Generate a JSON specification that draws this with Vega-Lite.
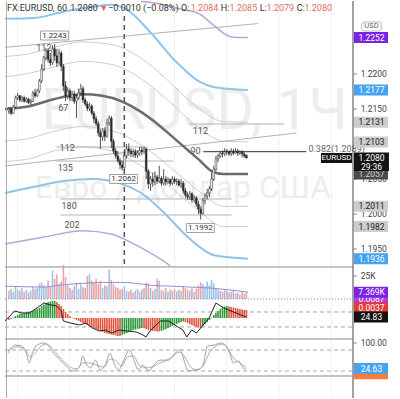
{
"$schema":"https://vega.github.io/schema/vega-lite/v6.json",
"width":400,"height":399,
"autosize":{"type":"fit","contains":"padding"},
"padding":0,
"background":"#ffffff",
"config":{"view":{"stroke":null},"font":"Roboto","axis":{"labelFont":"Roboto"},"text":{"font":"Roboto"}},
"datasets":{
"candles":[
{"t":-0.167,"o":1.2147,"h":1.2153,"l":1.2143,"c":1.2150,"v":9000,"g":-0.00092,"hd":"d"},
{"t":-0.125,"o":1.2150,"h":1.2153,"l":1.2141,"c":1.2144,"v":11000,"g":-0.00046,"hd":"u"},
{"t":-0.083,"o":1.2144,"h":1.2156,"l":1.2143,"c":1.2153,"v":8000,"g":0.00023,"hd":"u"},
{"t":-0.042,"o":1.2153,"h":1.2169,"l":1.2151,"c":1.2166,"v":14000,"g":0.00092,"hd":"u"},
{"t":0,"o":1.2166,"h":1.2173,"l":1.2163,"c":1.2169,"v":10000,"g":0.00138,"hd":"u"},
{"t":0.042,"o":1.2169,"h":1.2170,"l":1.2160,"c":1.2163,"v":9000,"g":0.00184,"hd":"u"},
{"t":0.083,"o":1.2163,"h":1.2169,"l":1.2160,"c":1.2166,"v":12000,"g":0.00207,"hd":"u"},
{"t":0.125,"o":1.2166,"h":1.2169,"l":1.2159,"c":1.2161,"v":8000,"g":0.0023,"hd":"u"},
{"t":0.167,"o":1.2161,"h":1.2167,"l":1.2159,"c":1.2164,"v":10000,"g":0.00253,"hd":"u"},
{"t":0.208,"o":1.2164,"h":1.2166,"l":1.2157,"c":1.2159,"v":7000,"g":0.00276,"hd":"u"},
{"t":0.25,"o":1.2159,"h":1.2164,"l":1.2156,"c":1.2161,"v":9000,"g":0.00299,"hd":"u"},
{"t":0.292,"o":1.2161,"h":1.2176,"l":1.2160,"c":1.2173,"v":13000,"g":0.00322,"hd":"u"},
{"t":0.333,"o":1.2173,"h":1.2179,"l":1.2166,"c":1.2169,"v":11000,"g":0.00368,"hd":"u"},
{"t":0.375,"o":1.2169,"h":1.2179,"l":1.2167,"c":1.2176,"v":12000,"g":0.00414,"hd":"u"},
{"t":0.417,"o":1.2176,"h":1.2193,"l":1.2173,"c":1.2190,"v":17000,"g":0.0046,"hd":"u"},
{"t":0.458,"o":1.2190,"h":1.2214,"l":1.2187,"c":1.2207,"v":18000,"g":0.00552,"hd":"u"},
{"t":0.5,"o":1.2207,"h":1.2226,"l":1.2204,"c":1.2223,"v":15000,"g":0.00621,"hd":"u"},
{"t":0.542,"o":1.2223,"h":1.2237,"l":1.2219,"c":1.2233,"v":13000,"g":0.0069,"hd":"u"},
{"t":0.583,"o":1.2233,"h":1.2236,"l":1.2216,"c":1.2221,"v":20000,"g":0.00736,"hd":"u"},
{"t":0.625,"o":1.2221,"h":1.2230,"l":1.2211,"c":1.2216,"v":14000,"g":0.00759,"hd":"u"},
{"t":0.667,"o":1.2216,"h":1.2241,"l":1.2213,"c":1.2236,"v":31000,"g":0.00782,"hd":"u"},
{"t":0.708,"o":1.2236,"h":1.2243,"l":1.2219,"c":1.2226,"v":22000,"g":0.00782,"hd":"u"},
{"t":0.75,"o":1.2226,"h":1.2236,"l":1.2210,"c":1.2216,"v":27000,"g":0.00736,"hd":"d"},
{"t":0.792,"o":1.2216,"h":1.2236,"l":1.2213,"c":1.2230,"v":16000,"g":0.00644,"hd":"d"},
{"t":0.833,"o":1.2230,"h":1.2233,"l":1.2204,"c":1.2211,"v":19000,"g":0.00552,"hd":"d"},
{"t":0.875,"o":1.2211,"h":1.2214,"l":1.2176,"c":1.2183,"v":37000,"g":0.00414,"hd":"d"},
{"t":0.917,"o":1.2183,"h":1.2190,"l":1.2161,"c":1.2169,"v":24000,"g":0.00276,"hd":"d"},
{"t":0.958,"o":1.2169,"h":1.2181,"l":1.2164,"c":1.2176,"v":15000,"g":0.00184,"hd":"d"},
{"t":1.0,"o":1.2176,"h":1.2179,"l":1.2161,"c":1.2166,"v":12000,"g":0.00092,"hd":"d"},
{"t":1.042,"o":1.2166,"h":1.2176,"l":1.2161,"c":1.2171,"v":10000,"g":0.00023,"hd":"d"},
{"t":1.083,"o":1.2171,"h":1.2176,"l":1.2157,"c":1.2161,"v":14000,"g":-0.00046,"hd":"d"},
{"t":1.125,"o":1.2161,"h":1.2171,"l":1.2137,"c":1.2166,"v":18000,"g":-0.00092,"hd":"d"},
{"t":1.167,"o":1.2166,"h":1.2179,"l":1.2163,"c":1.2173,"v":11000,"g":-0.00138,"hd":"d"},
{"t":1.208,"o":1.2173,"h":1.2186,"l":1.2169,"c":1.2179,"v":16000,"g":-0.00184,"hd":"d"},
{"t":1.25,"o":1.2179,"h":1.2183,"l":1.2159,"c":1.2163,"v":13000,"g":-0.0023,"hd":"d"},
{"t":1.292,"o":1.2163,"h":1.2166,"l":1.2154,"c":1.2157,"v":12000,"g":-0.00276,"hd":"d"},
{"t":1.333,"o":1.2157,"h":1.2161,"l":1.2147,"c":1.2151,"v":25000,"g":-0.00322,"hd":"d"},
{"t":1.375,"o":1.2151,"h":1.2159,"l":1.2147,"c":1.2154,"v":27000,"g":-0.00368,"hd":"d"},
{"t":1.417,"o":1.2154,"h":1.2157,"l":1.2141,"c":1.2144,"v":20000,"g":-0.00414,"hd":"d"},
{"t":1.458,"o":1.2144,"h":1.2147,"l":1.2130,"c":1.2136,"v":18000,"g":-0.0046,"hd":"d"},
{"t":1.5,"o":1.2136,"h":1.2140,"l":1.2126,"c":1.2129,"v":22000,"g":-0.00506,"hd":"d"},
{"t":1.542,"o":1.2129,"h":1.2133,"l":1.2111,"c":1.2116,"v":16000,"g":-0.00552,"hd":"d"},
{"t":1.583,"o":1.2116,"h":1.2121,"l":1.2093,"c":1.2110,"v":20000,"g":-0.00598,"hd":"d"},
{"t":1.625,"o":1.2110,"h":1.2123,"l":1.2104,"c":1.2119,"v":12000,"g":-0.00644,"hd":"d"},
{"t":1.667,"o":1.2119,"h":1.2124,"l":1.2104,"c":1.2111,"v":15000,"g":-0.0069,"hd":"d"},
{"t":1.708,"o":1.2111,"h":1.2136,"l":1.2109,"c":1.2130,"v":14000,"g":-0.00713,"hd":"d"},
{"t":1.75,"o":1.2130,"h":1.2141,"l":1.2126,"c":1.2137,"v":32000,"g":-0.00736,"hd":"d"},
{"t":1.792,"o":1.2137,"h":1.2140,"l":1.2094,"c":1.2104,"v":21000,"g":-0.00759,"hd":"d"},
{"t":1.833,"o":1.2104,"h":1.2107,"l":1.2086,"c":1.2090,"v":16000,"g":-0.00782,"hd":"d"},
{"t":1.875,"o":1.2090,"h":1.2094,"l":1.2079,"c":1.2083,"v":13000,"g":-0.00805,"hd":"d"},
{"t":1.917,"o":1.2083,"h":1.2090,"l":1.2073,"c":1.2076,"v":12000,"g":-0.00828,"hd":"d"},
{"t":1.958,"o":1.2076,"h":1.2080,"l":1.2064,"c":1.2070,"v":10000,"g":-0.00828,"hd":"d"},
{"t":2.0,"o":1.2070,"h":1.2076,"l":1.2062,"c":1.2066,"v":11000,"g":-0.00782,"hd":"u"},
{"t":2.042,"o":1.2066,"h":1.2093,"l":1.2064,"c":1.2083,"v":14000,"g":-0.00736,"hd":"u"},
{"t":2.083,"o":1.2083,"h":1.2100,"l":1.2079,"c":1.2093,"v":9000,"g":-0.0069,"hd":"u"},
{"t":2.125,"o":1.2093,"h":1.2101,"l":1.2083,"c":1.2090,"v":8000,"g":-0.00644,"hd":"u"},
{"t":2.167,"o":1.2090,"h":1.2094,"l":1.2081,"c":1.2086,"v":10000,"g":-0.00598,"hd":"u"},
{"t":2.208,"o":1.2086,"h":1.2093,"l":1.2081,"c":1.2089,"v":7000,"g":-0.00552,"hd":"u"},
{"t":2.25,"o":1.2089,"h":1.2093,"l":1.2080,"c":1.2084,"v":9000,"g":-0.00529,"hd":"u"},
{"t":2.292,"o":1.2084,"h":1.2091,"l":1.2080,"c":1.2087,"v":11000,"g":-0.00506,"hd":"u"},
{"t":2.333,"o":1.2087,"h":1.2096,"l":1.2083,"c":1.2091,"v":8000,"g":-0.00483,"hd":"u"},
{"t":2.375,"o":1.2091,"h":1.2096,"l":1.2084,"c":1.2089,"v":10000,"g":-0.0046,"hd":"u"},
{"t":2.417,"o":1.2089,"h":1.2096,"l":1.2086,"c":1.2093,"v":12000,"g":-0.0046,"hd":"d"},
{"t":2.458,"o":1.2093,"h":1.2094,"l":1.2050,"c":1.2061,"v":18000,"g":-0.00506,"hd":"d"},
{"t":2.5,"o":1.2061,"h":1.2064,"l":1.2036,"c":1.2043,"v":17000,"g":-0.00552,"hd":"d"},
{"t":2.542,"o":1.2043,"h":1.2054,"l":1.2033,"c":1.2050,"v":12000,"g":-0.00575,"hd":"d"},
{"t":2.583,"o":1.2050,"h":1.2059,"l":1.2039,"c":1.2046,"v":9000,"g":-0.00598,"hd":"d"},
{"t":2.625,"o":1.2046,"h":1.2061,"l":1.2041,"c":1.2053,"v":11000,"g":-0.00598,"hd":"d"},
{"t":2.667,"o":1.2053,"h":1.2056,"l":1.2043,"c":1.2047,"v":22000,"g":-0.00621,"hd":"d"},
{"t":2.708,"o":1.2047,"h":1.2069,"l":1.2044,"c":1.2051,"v":20000,"g":-0.00621,"hd":"d"},
{"t":2.75,"o":1.2051,"h":1.2054,"l":1.2040,"c":1.2044,"v":10000,"g":-0.00598,"hd":"u"},
{"t":2.792,"o":1.2044,"h":1.2064,"l":1.2041,"c":1.2050,"v":9000,"g":-0.00552,"hd":"u"},
{"t":2.833,"o":1.2050,"h":1.2054,"l":1.2041,"c":1.2046,"v":12000,"g":-0.00506,"hd":"u"},
{"t":2.875,"o":1.2046,"h":1.2053,"l":1.2043,"c":1.2049,"v":8000,"g":-0.0046,"hd":"u"},
{"t":2.917,"o":1.2049,"h":1.2051,"l":1.2040,"c":1.2044,"v":10000,"g":-0.00414,"hd":"u"},
{"t":2.958,"o":1.2044,"h":1.2054,"l":1.2041,"c":1.2050,"v":9000,"g":-0.00368,"hd":"u"},
{"t":3.0,"o":1.2050,"h":1.2053,"l":1.2043,"c":1.2046,"v":11000,"g":-0.00322,"hd":"u"},
{"t":3.042,"o":1.2046,"h":1.2051,"l":1.2041,"c":1.2047,"v":8000,"g":-0.00276,"hd":"u"},
{"t":3.083,"o":1.2047,"h":1.2050,"l":1.2039,"c":1.2041,"v":10000,"g":-0.0023,"hd":"u"},
{"t":3.125,"o":1.2041,"h":1.2050,"l":1.2037,"c":1.2044,"v":9000,"g":-0.00184,"hd":"u"},
{"t":3.167,"o":1.2044,"h":1.2047,"l":1.2029,"c":1.2033,"v":14000,"g":-0.00161,"hd":"u"},
{"t":3.208,"o":1.2033,"h":1.2037,"l":1.2023,"c":1.2027,"v":12000,"g":-0.00184,"hd":"d"},
{"t":3.25,"o":1.2027,"h":1.2031,"l":1.2020,"c":1.2024,"v":10000,"g":-0.0023,"hd":"d"},
{"t":3.292,"o":1.2024,"h":1.2033,"l":1.2020,"c":1.2029,"v":9000,"g":-0.00276,"hd":"d"},
{"t":3.333,"o":1.2029,"h":1.2031,"l":1.2016,"c":1.2020,"v":12000,"g":-0.00322,"hd":"d"},
{"t":3.375,"o":1.2020,"h":1.2027,"l":1.2016,"c":1.2023,"v":8000,"g":-0.00368,"hd":"d"},
{"t":3.417,"o":1.2023,"h":1.2026,"l":1.2010,"c":1.2014,"v":11000,"g":-0.00414,"hd":"d"},
{"t":3.458,"o":1.2014,"h":1.2019,"l":1.2000,"c":1.2007,"v":15000,"g":-0.00437,"hd":"d"},
{"t":3.5,"o":1.2007,"h":1.2011,"l":1.1992,"c":1.2001,"v":18000,"g":-0.0046,"hd":"d"},
{"t":3.542,"o":1.2001,"h":1.2023,"l":1.1999,"c":1.2019,"v":16000,"g":-0.00368,"hd":"u"},
{"t":3.583,"o":1.2019,"h":1.2030,"l":1.2014,"c":1.2026,"v":14000,"g":-0.00276,"hd":"u"},
{"t":3.625,"o":1.2026,"h":1.2036,"l":1.2021,"c":1.2030,"v":19000,"g":-0.00184,"hd":"u"},
{"t":3.667,"o":1.2030,"h":1.2040,"l":1.2024,"c":1.2036,"v":15000,"g":-0.00092,"hd":"u"},
{"t":3.708,"o":1.2036,"h":1.2059,"l":1.2033,"c":1.2050,"v":21000,"g":0.00023,"hd":"u"},
{"t":3.75,"o":1.2050,"h":1.2069,"l":1.2047,"c":1.2064,"v":17000,"g":0.00138,"hd":"u"},
{"t":3.792,"o":1.2064,"h":1.2083,"l":1.2061,"c":1.2079,"v":12000,"g":0.0023,"hd":"u"},
{"t":3.833,"o":1.2079,"h":1.2086,"l":1.2074,"c":1.2083,"v":10000,"g":0.00322,"hd":"u"},
{"t":3.875,"o":1.2083,"h":1.2090,"l":1.2080,"c":1.2087,"v":9000,"g":0.00414,"hd":"u"},
{"t":3.917,"o":1.2087,"h":1.2091,"l":1.2081,"c":1.2086,"v":8000,"g":0.00483,"hd":"u"},
{"t":3.958,"o":1.2086,"h":1.2094,"l":1.2083,"c":1.2090,"v":11000,"g":0.00529,"hd":"u"},
{"t":4.0,"o":1.2090,"h":1.2093,"l":1.2084,"c":1.2089,"v":9000,"g":0.00552,"hd":"u"},
{"t":4.042,"o":1.2089,"h":1.2091,"l":1.2083,"c":1.2086,"v":7000,"g":0.00529,"hd":"d"},
{"t":4.083,"o":1.2086,"h":1.2094,"l":1.2083,"c":1.2090,"v":8000,"g":0.00506,"hd":"d"},
{"t":4.125,"o":1.2090,"h":1.2093,"l":1.2084,"c":1.2087,"v":10000,"g":0.00483,"hd":"d"},
{"t":4.167,"o":1.2087,"h":1.2094,"l":1.2086,"c":1.2090,"v":6000,"g":0.0046,"hd":"d"},
{"t":4.208,"o":1.2090,"h":1.2093,"l":1.2083,"c":1.2087,"v":7000,"g":0.00437,"hd":"d"},
{"t":4.25,"o":1.2087,"h":1.2091,"l":1.2084,"c":1.2089,"v":5000,"g":0.00414,"hd":"d"},
{"t":4.292,"o":1.2089,"h":1.2091,"l":1.2081,"c":1.2086,"v":8000,"g":0.00391,"hd":"d"},
{"t":4.333,"o":1.2086,"h":1.2089,"l":1.2080,"c":1.2083,"v":6000,"g":0.00368,"hd":"d"},
{"t":4.375,"o":1.2084,"h":1.2085,"l":1.2079,"c":1.2080,"v":7369,"g":0.0037,"hd":"d"}
],
"gcurve":[
{"s":"a","t":-0.242,"p":1.2225},{"s":"a","t":0.223,"p":1.2229},{"s":"a","t":0.688,"p":1.2238},{"s":"a","t":1.245,"p":1.2246},{"s":"a","t":1.617,"p":1.2244},{"s":"a","t":1.989,"p":1.2238},{"s":"a","t":2.175,"p":1.2231},{"s":"a","t":2.602,"p":1.2209},{"s":"a","t":3.011,"p":1.2181},{"s":"a","t":3.476,"p":1.2150},{"s":"a","t":3.941,"p":1.2132},{"s":"a","t":4.405,"p":1.2131},
{"s":"c","t":-0.242,"p":1.2196},{"s":"c","t":0.223,"p":1.2201},{"s":"c","t":0.688,"p":1.2210},{"s":"c","t":1.245,"p":1.2218},{"s":"c","t":1.617,"p":1.2216},{"s":"c","t":1.989,"p":1.2209},{"s":"c","t":2.175,"p":1.2202},{"s":"c","t":2.602,"p":1.2180},{"s":"c","t":3.011,"p":1.2153},{"s":"c","t":3.476,"p":1.2122},{"s":"c","t":3.941,"p":1.2104},{"s":"c","t":4.405,"p":1.2103},
{"s":"b","t":-0.242,"p":1.2104},{"s":"b","t":0.223,"p":1.2108},{"s":"b","t":0.688,"p":1.2118},{"s":"b","t":1.245,"p":1.2125},{"s":"b","t":1.617,"p":1.2122},{"s":"b","t":1.989,"p":1.2114},{"s":"b","t":2.175,"p":1.2107},{"s":"b","t":2.602,"p":1.2086},{"s":"b","t":3.011,"p":1.2061},{"s":"b","t":3.476,"p":1.2032},{"s":"b","t":3.941,"p":1.2011},{"s":"b","t":4.405,"p":1.2011},
{"s":"d","t":-0.242,"p":1.2075},{"s":"d","t":0.223,"p":1.2079},{"s":"d","t":0.688,"p":1.2090},{"s":"d","t":1.245,"p":1.2096},{"s":"d","t":1.617,"p":1.2093},{"s":"d","t":1.989,"p":1.2085},{"s":"d","t":2.175,"p":1.2077},{"s":"d","t":2.602,"p":1.2057},{"s":"d","t":3.011,"p":1.2033},{"s":"d","t":3.476,"p":1.2004},{"s":"d","t":3.941,"p":1.1982},{"s":"d","t":4.405,"p":1.1982}
],
"ma":[
{"t":-0.242,"p":1.2150},{"t":0.223,"p":1.2154},{"t":0.688,"p":1.2164},{"t":1.245,"p":1.2171},{"t":1.617,"p":1.2169},{"t":1.989,"p":1.2161},{"t":2.175,"p":1.2154},{"t":2.602,"p":1.2133},{"t":3.011,"p":1.2107},{"t":3.290,"p":1.2089},{"t":3.476,"p":1.2077},{"t":3.717,"p":1.2061},{"t":3.941,"p":1.2057},{"t":4.405,"p":1.2057}
],
"blue":[
{"s":"u","t":-0.242,"p":1.2279},{"s":"u","t":0.316,"p":1.2280},{"s":"u","t":0.874,"p":1.2289},{"s":"u","t":1.431,"p":1.2296},{"s":"u","t":1.803,"p":1.2299},{"s":"u","t":2.045,"p":1.2294},{"s":"u","t":2.546,"p":1.2259},{"s":"u","t":3.011,"p":1.2219},{"s":"u","t":3.476,"p":1.2189},{"s":"u","t":3.755,"p":1.2181},{"s":"u","t":4.033,"p":1.2179},{"s":"u","t":4.405,"p":1.2177},
{"s":"l","t":-0.242,"p":1.2030},{"s":"l","t":0.316,"p":1.2039},{"s":"l","t":0.874,"p":1.2047},{"s":"l","t":1.431,"p":1.2050},{"s":"l","t":1.989,"p":1.2043},{"s":"l","t":2.361,"p":1.2030},{"s":"l","t":2.825,"p":1.2000},{"s":"l","t":3.197,"p":1.1971},{"s":"l","t":3.476,"p":1.1953},{"s":"l","t":3.755,"p":1.1941},{"s":"l","t":4.405,"p":1.1936}
],
"purple":[
{"s":"u","t":2.361,"p":1.2304},{"s":"u","t":2.732,"p":1.2300},{"s":"u","t":3.104,"p":1.2293},{"s":"u","t":3.476,"p":1.2286},{"s":"u","t":3.755,"p":1.2269},{"s":"u","t":4.089,"p":1.2253},{"s":"u","t":4.405,"p":1.2252},
{"s":"l","t":-0.242,"p":1.1957},{"s":"l","t":0.502,"p":1.1967},{"s":"l","t":1.245,"p":1.1976},{"s":"l","t":1.803,"p":1.1971},{"s":"l","t":2.230,"p":1.1957},{"s":"l","t":2.546,"p":1.1944},{"s":"l","t":2.862,"p":1.1929},{"s":"l","t":2.918,"p":1.19257}
],
"levels":[
{"t1":-0.242,"p1":1.2238,"t2":4.591,"p2":1.2272},
{"t1":0.743,"p1":1.20957,"t2":2.491,"p2":1.20957},
{"t1":-0.242,"p1":1.20686,"t2":5.335,"p2":1.21157},
{"t1":0.743,"p1":1.20757,"t2":2.974,"p2":1.20757},
{"t1":0.818,"p1":1.20214,"t2":4.089,"p2":1.20214},
{"t1":0.818,"p1":1.19986,"t2":4.089,"p2":1.19986},
{"t1":3.29,"p1":1.21286,"t2":5.093,"p2":1.21286}
],
"lvlabels":[
{"t":0.502,"p":1.22371,"s":"112"},{"t":0.874,"p":1.2151,"s":"67"},{"t":0.948,"p":1.20943,"s":"112"},{"t":0.911,"p":1.20657,"s":"135"},{"t":0.985,"p":1.20114,"s":"180"},{"t":1.041,"p":1.19843,"s":"202"},{"t":3.494,"p":1.21186,"s":"112"},{"t":3.401,"p":1.209,"s":"90"}
],
"boxes":[
{"t":0.706,"p":1.2255,"s":"1.2243"},{"t":2.026,"p":1.2050,"s":"1.2062"},{"t":3.494,"p":1.1980,"s":"1.1992"}
],
"hdr":[
{"t":-0.2045,"s":"FX:EURUSD, 60","k":"n"},{"t":1.004,"s":"1.2080","k":"n"},{"t":1.561,"s":"▼","k":"r"},{"t":1.729,"s":"−0.0010 (−0.08%)","k":"n"},{"t":3.123,"s":"O:","k":"n"},{"t":3.309,"s":"1.2084","k":"r"},{"t":3.885,"s":"H:","k":"n"},{"t":4.052,"s":"1.2085","k":"r"},{"t":4.628,"s":"L:","k":"n"},{"t":4.758,"s":"1.2079","k":"r"},{"t":5.335,"s":"C:","k":"n"},{"t":5.483,"s":"1.2080","k":"r"}
],
"pticks":[
{"p":1.225,"s":"1.2250"},{"p":1.22,"s":"1.2200"},{"p":1.215,"s":"1.2150"},{"p":1.21,"s":"1.2100"},{"p":1.205,"s":"1.2050"},{"p":1.2,"s":"1.2000"},{"p":1.195,"s":"1.1950"}
],
"mtags":[
{"p":1.2252,"s":"1.2252","k":"violet"},{"p":1.2177,"s":"1.2177","k":"blue"},{"p":1.2131,"s":"1.2131","k":"grey"},{"p":1.2103,"s":"1.2103","k":"grey"},{"p":1.2057,"s":"1.2057","k":"dark"},{"p":1.2011,"s":"1.2011","k":"grey"},{"p":1.1982,"s":"1.1982","k":"grey"},{"p":1.1936,"s":"1.1936","k":"blue"}
],
"macdline":[
{"t":-0.242,"m":-0.00138},{"t":-0.056,"m":0.00322},{"t":0.074,"m":0.0023},{"t":0.223,"m":0.0023},{"t":0.372,"m":0.0046},{"t":0.502,"m":0.0069},{"t":0.632,"m":0.00598},{"t":0.743,"m":0.00552},{"t":0.836,"m":0.00322},{"t":0.874,"m":-0.00138},{"t":1.004,"m":-0.0023},{"t":1.19,"m":-0.00322},{"t":1.301,"m":-0.0023},{"t":1.431,"m":-0.0046},{"t":1.561,"m":-0.00598},{"t":1.673,"m":-0.00552},{"t":1.803,"m":-0.0069},{"t":1.933,"m":-0.00552},{"t":2.082,"m":-0.00598},{"t":2.268,"m":-0.00644},{"t":2.398,"m":-0.00782},{"t":2.454,"m":-0.00874},{"t":2.546,"m":-0.00552},{"t":2.732,"m":-0.00138},{"t":2.881,"m":-0.00138},{"t":3.16,"m":-0.00552},{"t":3.234,"m":-0.00874},{"t":3.327,"m":-0.00552},{"t":3.42,"m":-0.0069},{"t":3.532,"m":-0.00368},{"t":3.662,"m":0},{"t":3.792,"m":0.0069},{"t":3.848,"m":0.00598},{"t":3.941,"m":0.0046},{"t":4.126,"m":0.00276},{"t":4.368,"m":0.00046}
],
"vma":[
{"t":-0.242,"m":14000},{"t":0.502,"m":13000},{"t":0.781,"m":15000},{"t":1.245,"m":17000},{"t":1.617,"m":18000},{"t":1.989,"m":18000},{"t":2.268,"m":17000},{"t":2.546,"m":15000},{"t":2.918,"m":14000},{"t":3.29,"m":13000},{"t":3.662,"m":12000},{"t":4.033,"m":10000},{"t":4.405,"m":7500}
],
"stk":[
{"t":-0.186,"v":71},{"t":-0.056,"v":94},{"t":0.074,"v":91},{"t":0.167,"v":71},{"t":0.223,"v":43},{"t":0.279,"v":71},{"t":0.372,"v":94},{"t":0.502,"v":100},{"t":0.595,"v":91},{"t":0.688,"v":71},{"t":0.818,"v":51},{"t":0.929,"v":34},{"t":1.059,"v":20},{"t":1.19,"v":34},{"t":1.245,"v":63},{"t":1.301,"v":43},{"t":1.394,"v":29},{"t":1.487,"v":51},{"t":1.58,"v":23},{"t":1.673,"v":37},{"t":1.766,"v":71},{"t":1.84,"v":43},{"t":1.933,"v":23},{"t":2.007,"v":43},{"t":2.138,"v":80},{"t":2.23,"v":49},{"t":2.305,"v":23},{"t":2.398,"v":37},{"t":2.509,"v":20},{"t":2.602,"v":37},{"t":2.732,"v":51},{"t":2.881,"v":51},{"t":3.011,"v":71},{"t":3.104,"v":80},{"t":3.197,"v":43},{"t":3.253,"v":20},{"t":3.383,"v":23},{"t":3.513,"v":29},{"t":3.569,"v":51},{"t":3.625,"v":91},{"t":3.755,"v":94},{"t":3.885,"v":100},{"t":3.996,"v":91},{"t":4.071,"v":63},{"t":4.126,"v":43},{"t":4.219,"v":49},{"t":4.312,"v":29},{"t":4.368,"v":24.6}
],
"std":[
{"t":-0.186,"v":77},{"t":-0.019,"v":89},{"t":0.13,"v":83},{"t":0.242,"v":60},{"t":0.335,"v":71},{"t":0.446,"v":91},{"t":0.558,"v":97},{"t":0.67,"v":83},{"t":0.781,"v":63},{"t":0.892,"v":46},{"t":1.004,"v":31},{"t":1.134,"v":26},{"t":1.245,"v":43},{"t":1.357,"v":43},{"t":1.45,"v":40},{"t":1.561,"v":34},{"t":1.654,"v":31},{"t":1.766,"v":54},{"t":1.877,"v":49},{"t":1.989,"v":34},{"t":2.1,"v":60},{"t":2.212,"v":63},{"t":2.323,"v":37},{"t":2.435,"v":29},{"t":2.565,"v":31},{"t":2.677,"v":40},{"t":2.825,"v":49},{"t":2.955,"v":60},{"t":3.085,"v":74},{"t":3.197,"v":60},{"t":3.309,"v":31},{"t":3.439,"v":23},{"t":3.569,"v":40},{"t":3.662,"v":71},{"t":3.792,"v":91},{"t":3.922,"v":97},{"t":4.033,"v":80},{"t":4.126,"v":57},{"t":4.238,"v":43},{"t":4.368,"v":31}
],
"days":[{"t":0},{"t":1},{"t":2},{"t":3},{"t":4},{"t":5},{"t":6}]
},
"layer":[
{"layer":[
{"data":{"name":"days"},"mark":{"type":"rule","color":"#f0f0f0","strokeWidth":1},"encoding":{"x":{"field":"t","type":"quantitative","axis":null}}},
{"data":{"values":[{"s":"EURUSD, 1Ч"}]},"mark":{"type":"text","fontSize":57,"color":"#ededed","align":"center","baseline":"alphabetic"},"encoding":{"x":{"datum":3.38,"axis":null},"y":{"datum":1.21214,"axis":null},"text":{"field":"s"}}},
{"data":{"values":[{"s":"Евро / Доллар США"}]},"mark":{"type":"text","fontSize":32,"color":"#ededed","align":"center","baseline":"alphabetic"},"encoding":{"x":{"datum":3.16,"axis":null},"y":{"datum":1.20229,"axis":null},"text":{"field":"s"}}},
{"data":{"name":"gcurve"},"mark":{"type":"line","color":"#cdcdcd","strokeWidth":1,"interpolate":"monotone","clip":true},"encoding":{"x":{"field":"t","type":"quantitative","axis":null},"y":{"field":"p","type":"quantitative","axis":null},"detail":{"field":"s"}}},
{"data":{"name":"levels"},"mark":{"type":"rule","color":"#b3b3b3","strokeWidth":1,"clip":true},"encoding":{"x":{"field":"t1","type":"quantitative","axis":null},"x2":{"field":"t2"},"y":{"field":"p1","type":"quantitative","axis":null},"y2":{"field":"p2"}}},
{"data":{"name":"purple"},"mark":{"type":"line","color":"#bfa2d6","strokeWidth":1.5,"interpolate":"monotone","clip":true},"encoding":{"x":{"field":"t","type":"quantitative","axis":null},"y":{"field":"p","type":"quantitative","axis":null},"detail":{"field":"s"}}},
{"data":{"name":"blue"},"mark":{"type":"line","color":"#8fc3ea","strokeWidth":2,"interpolate":"monotone","clip":true},"encoding":{"x":{"field":"t","type":"quantitative","axis":null},"y":{"field":"p","type":"quantitative","axis":null},"detail":{"field":"s"}}},
{"data":{"name":"ma"},"mark":{"type":"line","color":"#6b6b6b","strokeWidth":2.5,"interpolate":"monotone","clip":true},"encoding":{"x":{"field":"t","type":"quantitative","axis":null},"y":{"field":"p","type":"quantitative","axis":null}}},
{"data":{"values":[{}]},"mark":{"type":"rule","color":"#555555","strokeWidth":1.5,"strokeDash":[5,4]},"encoding":{"x":{"datum":2.04,"axis":null},"y":{"datum":1.22828,"axis":null},"y2":{"datum":1.19257}}},
{"data":{"name":"candles"},"mark":{"type":"rule","color":"#2a2a2a","strokeWidth":0.8},"encoding":{"x":{"field":"t","type":"quantitative","scale":{"domain":[-0.2416,6.4126],"range":[0,358],"nice":false,"zero":false},"axis":{"values":[0,1,2,4,5,6],"labelExpr":"datum.value == 0 ? '25' : datum.value == 1 ? '26' : datum.value == 2 ? 'Мар' : datum.value == 4 ? '3' : datum.value == 5 ? '4' : '5'","title":null,"grid":false,"domain":false,"offset":-24,"tickColor":"#999999","tickSize":3,"labelColor":"#444444","labelFontSize":8,"labelPadding":3}},"y":{"field":"l","type":"quantitative","scale":{"domain":[1.19257,1.23043],"range":[265,0],"nice":false,"zero":false},"axis":null},"y2":{"field":"h"}}},
{"data":{"name":"candles"},"mark":{"type":"bar","size":1.7,"stroke":"#2a2a2a","strokeWidth":0.5},"encoding":{"x":{"field":"t","type":"quantitative","axis":null},"y":{"field":"o","type":"quantitative","axis":null},"y2":{"field":"c"},"color":{"condition":{"test":"datum.c > datum.o","value":"#ffffff"},"value":"#2a2a2a"}}},
{"data":{"values":[{"t1":3.55,"t2":5.52,"p":1.2089}]},"mark":{"type":"rule","color":"#333333","strokeWidth":1},"encoding":{"x":{"field":"t1","type":"quantitative","axis":null},"x2":{"field":"t2"},"y":{"field":"p","type":"quantitative","axis":null}}},
{"data":{"name":"lvlabels"},"mark":{"type":"text","fontSize":9,"color":"#555555","align":"center","baseline":"middle"},"encoding":{"x":{"field":"t","type":"quantitative","axis":null},"y":{"field":"p","type":"quantitative","axis":null},"text":{"field":"s"}}},
{"data":{"values":[{"t":5.56,"p":1.2093,"s":"0.382(1.2089)"}]},"mark":{"type":"text","fontSize":9,"color":"#666666","align":"left","baseline":"middle"},"encoding":{"x":{"field":"t","type":"quantitative","axis":null},"y":{"field":"p","type":"quantitative","axis":null},"text":{"field":"s"}}},
{"data":{"name":"boxes"},"mark":{"type":"rect","fill":"#ffffff","stroke":"#8a8a8a","strokeWidth":0.8,"xOffset":-14,"x2Offset":14,"yOffset":-4.5,"y2Offset":4.5},"encoding":{"x":{"field":"t","type":"quantitative","axis":null},"x2":{"field":"t"},"y":{"field":"p","type":"quantitative","axis":null},"y2":{"field":"p"}}},
{"data":{"name":"boxes"},"mark":{"type":"text","fontSize":8,"color":"#333333","align":"center","baseline":"middle"},"encoding":{"x":{"field":"t","type":"quantitative","axis":null},"y":{"field":"p","type":"quantitative","axis":null},"text":{"field":"s"}}},
{"data":{"name":"hdr"},"mark":{"type":"text","fontSize":9,"align":"left","baseline":"middle"},"encoding":{"x":{"field":"t","type":"quantitative","axis":null},"y":{"datum":1.22943,"axis":null},"text":{"field":"s"},"color":{"condition":{"test":"datum.k == 'r'","value":"#e06c6c"},"value":"#333333"}}},
{"data":{"values":[{}]},"mark":{"type":"rule","color":"#8a8a8a","strokeWidth":1},"encoding":{"x":{"datum":-0.2416,"axis":null},"x2":{"datum":6.4126},"y":{"datum":1.19243,"axis":null}}},
{"data":{"values":[{}]},"mark":{"type":"rule","color":"#444444","strokeWidth":1},"encoding":{"x":{"datum":6.4126,"axis":null}}},
{"data":{"values":[{}]},"mark":{"type":"rule","color":"#aaaaaa","strokeWidth":1},"encoding":{"x":{"datum":-0.214,"axis":null}}},
{"data":{"name":"pticks"},"mark":{"type":"rule","color":"#888888","strokeWidth":1},"encoding":{"x":{"datum":6.4126,"axis":null},"x2":{"datum":6.487},"y":{"field":"p","type":"quantitative","axis":null}}},
{"data":{"name":"pticks"},"mark":{"type":"text","fontSize":8.5,"color":"#444444","align":"left","baseline":"middle"},"encoding":{"x":{"datum":6.561,"axis":null},"y":{"field":"p","type":"quantitative","axis":null},"text":{"field":"s"}}},
{"data":{"name":"mtags"},"mark":{"type":"rect","yOffset":-5.5,"y2Offset":5.5},"encoding":{"x":{"datum":6.431,"axis":null},"x2":{"datum":7.082},"y":{"field":"p","type":"quantitative","axis":null},"y2":{"field":"p"},"fill":{"field":"k","type":"nominal","legend":null,"scale":{"domain":["violet","blue","grey","black","dark","red","pink","orange"],"range":["#7b22e6","#45a3f0","#cdcdcd","#131313","#4a4a4a","#e53935","#b23bd3","#ff7a3d"]}}}},
{"data":{"name":"mtags"},"mark":{"type":"text","fontSize":8.5,"align":"center","baseline":"middle"},"encoding":{"x":{"datum":6.766,"axis":null},"y":{"field":"p","type":"quantitative","axis":null},"text":{"field":"s"},"color":{"field":"k","type":"nominal","legend":null,"scale":{"domain":["violet","blue","grey","black","dark","red","pink","orange"],"range":["#ffffff","#ffffff","#222222","#ffffff","#d0d0d0","#ffffff","#ffffff","#ffffff"]}}}},
{"data":{"values":[{"p":1.208}]},"mark":{"type":"rect","color":"#131313","yOffset":-5,"y2Offset":5},"encoding":{"x":{"datum":5.8,"axis":null},"x2":{"datum":6.394},"y":{"field":"p","type":"quantitative","axis":null},"y2":{"field":"p"}}},
{"data":{"values":[{"p":1.208,"s":"EURUSD"}]},"mark":{"type":"text","fontSize":8,"color":"#ffffff","align":"center","baseline":"middle"},"encoding":{"x":{"datum":6.097,"axis":null},"y":{"field":"p","type":"quantitative","axis":null},"text":{"field":"s"}}},
{"data":{"values":[{"p":1.208}]},"mark":{"type":"rect","color":"#131313","yOffset":-5.5,"y2Offset":13},"encoding":{"x":{"datum":6.431,"axis":null},"x2":{"datum":7.1},"y":{"field":"p","type":"quantitative","axis":null},"y2":{"field":"p"}}},
{"data":{"values":[{"p":1.208,"s":"1.2080"}]},"mark":{"type":"text","fontSize":8.5,"color":"#ffffff","align":"center","baseline":"middle"},"encoding":{"x":{"datum":6.766,"axis":null},"y":{"field":"p","type":"quantitative","axis":null},"text":{"field":"s"}}},
{"data":{"values":[{"p":1.208,"s":"29:36"}]},"mark":{"type":"text","fontSize":8.5,"color":"#ffffff","align":"center","baseline":"middle","dy":9.5},"encoding":{"x":{"datum":6.766,"axis":null},"y":{"field":"p","type":"quantitative","axis":null},"text":{"field":"s"}}},
{"data":{"values":[{"p":1.22679}]},"mark":{"type":"rect","fill":"#ffffff","stroke":"#aaaaaa","strokeWidth":0.8,"cornerRadius":2,"yOffset":-4.5,"y2Offset":4.5},"encoding":{"x":{"datum":6.58,"axis":null},"x2":{"datum":6.952},"y":{"field":"p","type":"quantitative","axis":null},"y2":{"field":"p"}}},
{"data":{"values":[{"p":1.22679,"s":"USD"}]},"mark":{"type":"text","fontSize":7.5,"color":"#666666","align":"center","baseline":"middle"},"encoding":{"x":{"datum":6.766,"axis":null},"y":{"field":"p","type":"quantitative","axis":null},"text":{"field":"s"}}}
]},
{"layer":[
{"data":{"values":[{"lv":0.00276},{"lv":-0.00414}]},"mark":{"type":"rule","color":"#a9a9a9","strokeDash":[4,3],"strokeWidth":1},"encoding":{"x":{"datum":-0.2416,"axis":null},"x2":{"datum":6.4126},"y":{"field":"lv","type":"quantitative","scale":{"domain":[-0.0092,0.0078],"range":[337,300],"nice":false,"zero":false},"axis":null}}},
{"data":{"name":"candles"},"mark":{"type":"bar","size":1.6},"encoding":{"x":{"field":"t","type":"quantitative","axis":null},"y":{"field":"g","type":"quantitative","axis":null},"color":{"condition":{"test":"datum.hd == 'u'","value":"#2f9a3c"},"value":"#e4553f"}}},
{"data":{"name":"macdline"},"mark":{"type":"line","color":"#222222","strokeWidth":1,"clip":true},"encoding":{"x":{"field":"t","type":"quantitative","axis":null},"y":{"field":"m","type":"quantitative","axis":null}}},
{"data":{"values":[{"p":0.00851,"s":"0.0087","k":"pink"},{"p":0.0046,"s":"0.0037","k":"red"},{"p":0.00046,"s":"24.83","k":"black"}]},"layer":[
{"mark":{"type":"rect","yOffset":-5.5,"y2Offset":5.5},"encoding":{"x":{"datum":6.431,"axis":null},"x2":{"datum":7.082},"y":{"field":"p","type":"quantitative","axis":null},"y2":{"field":"p"},"fill":{"field":"k","type":"nominal","legend":null,"scale":{"domain":["violet","blue","grey","black","dark","red","pink","orange"],"range":["#7b22e6","#45a3f0","#cdcdcd","#131313","#4a4a4a","#e53935","#b23bd3","#ff7a3d"]}}}},
{"mark":{"type":"text","fontSize":8.5,"align":"center","baseline":"middle"},"encoding":{"x":{"datum":6.766,"axis":null},"y":{"field":"p","type":"quantitative","axis":null},"text":{"field":"s"},"color":{"field":"k","type":"nominal","legend":null,"scale":{"domain":["violet","blue","grey","black","dark","red","pink","orange"],"range":["#ffffff","#ffffff","#222222","#ffffff","#d0d0d0","#ffffff","#ffffff","#ffffff"]}}}}
]}
]},
{"layer":[
{"data":{"name":"candles"},"mark":{"type":"bar","size":1.6},"encoding":{"x":{"field":"t","type":"quantitative","axis":null},"y":{"field":"v","type":"quantitative","scale":{"domain":[0,37000],"range":[298,264],"nice":false},"axis":null},"color":{"condition":{"test":"datum.c > datum.o","value":"#9fc4e8"},"value":"#e8a5a5"}}},
{"data":{"name":"vma"},"mark":{"type":"line","color":"#9b8ad0","strokeWidth":1,"interpolate":"monotone","clip":true},"encoding":{"x":{"field":"t","type":"quantitative","axis":null},"y":{"field":"m","type":"quantitative","axis":null}}},
{"data":{"values":[{}]},"mark":{"type":"rule","color":"#8e7fb8","strokeWidth":1,"strokeDash":[1,2]},"encoding":{"x":{"datum":-0.2416,"axis":null},"x2":{"datum":6.4126},"y":{"datum":0,"axis":null}}},
{"data":{"values":[{"p":25000,"s":"25K"}]},"layer":[
{"mark":{"type":"rule","color":"#888888","strokeWidth":1},"encoding":{"x":{"datum":6.4126,"axis":null},"x2":{"datum":6.487},"y":{"field":"p","type":"quantitative","axis":null}}},
{"mark":{"type":"text","fontSize":8.5,"color":"#444444","align":"left","baseline":"middle"},"encoding":{"x":{"datum":6.561,"axis":null},"y":{"field":"p","type":"quantitative","axis":null},"text":{"field":"s"}}}
]},
{"data":{"values":[{"p":7369,"s":"7.369K","k":"violet"}]},"layer":[
{"mark":{"type":"rect","yOffset":-5.5,"y2Offset":5.5},"encoding":{"x":{"datum":6.431,"axis":null},"x2":{"datum":7.082},"y":{"field":"p","type":"quantitative","axis":null},"y2":{"field":"p"},"fill":{"field":"k","type":"nominal","legend":null,"scale":{"domain":["violet","blue","grey","black","dark","red","pink","orange"],"range":["#7b22e6","#45a3f0","#cdcdcd","#131313","#4a4a4a","#e53935","#b23bd3","#ff7a3d"]}}}},
{"mark":{"type":"text","fontSize":8.5,"align":"center","baseline":"middle"},"encoding":{"x":{"datum":6.766,"axis":null},"y":{"field":"p","type":"quantitative","axis":null},"text":{"field":"s"},"color":{"field":"k","type":"nominal","legend":null,"scale":{"domain":["violet","blue","grey","black","dark","red","pink","orange"],"range":["#ffffff","#ffffff","#222222","#ffffff","#d0d0d0","#ffffff","#ffffff","#ffffff"]}}}}
]}
]},
{"layer":[
{"data":{"values":[{"lv":80},{"lv":20}]},"mark":{"type":"rule","color":"#a9a9a9","strokeDash":[4,3],"strokeWidth":1},"encoding":{"x":{"datum":-0.2416,"axis":null},"x2":{"datum":6.4126},"y":{"field":"lv","type":"quantitative","scale":{"domain":[0,100],"range":[377,342],"nice":false},"axis":null}}},
{"data":{"name":"std"},"mark":{"type":"line","color":"#c2a88c","strokeWidth":1,"interpolate":"monotone","clip":true},"encoding":{"x":{"field":"t","type":"quantitative","axis":null},"y":{"field":"v","type":"quantitative","axis":null}}},
{"data":{"name":"stk"},"mark":{"type":"line","color":"#8aa6c8","strokeWidth":1,"interpolate":"monotone","clip":true},"encoding":{"x":{"field":"t","type":"quantitative","axis":null},"y":{"field":"v","type":"quantitative","axis":null}}},
{"data":{"values":[{"lv":111.43},{"lv":5.714}]},"mark":{"type":"rule","color":"#8a8a8a","strokeWidth":1},"encoding":{"x":{"datum":-0.2416,"axis":null},"x2":{"datum":6.4126},"y":{"field":"lv","type":"quantitative","axis":null}}},
{"data":{"values":[{"p":100,"s":"100.00"}]},"layer":[
{"mark":{"type":"rule","color":"#888888","strokeWidth":1},"encoding":{"x":{"datum":6.4126,"axis":null},"x2":{"datum":6.487},"y":{"field":"p","type":"quantitative","axis":null}}},
{"mark":{"type":"text","fontSize":8.5,"color":"#444444","align":"left","baseline":"middle"},"encoding":{"x":{"datum":6.561,"axis":null},"y":{"field":"p","type":"quantitative","axis":null},"text":{"field":"s"}}}
]},
{"data":{"values":[{"p":12,"s":"","k":"orange"},{"p":27,"s":"24.63","k":"blue"}]},"layer":[
{"mark":{"type":"rect","yOffset":-5.5,"y2Offset":5.5},"encoding":{"x":{"datum":6.431,"axis":null},"x2":{"datum":7.082},"y":{"field":"p","type":"quantitative","axis":null},"y2":{"field":"p"},"fill":{"field":"k","type":"nominal","legend":null,"scale":{"domain":["violet","blue","grey","black","dark","red","pink","orange"],"range":["#7b22e6","#45a3f0","#cdcdcd","#131313","#4a4a4a","#e53935","#b23bd3","#ff7a3d"]}}}},
{"mark":{"type":"text","fontSize":8.5,"align":"center","baseline":"middle"},"encoding":{"x":{"datum":6.766,"axis":null},"y":{"field":"p","type":"quantitative","axis":null},"text":{"field":"s"},"color":{"field":"k","type":"nominal","legend":null,"scale":{"domain":["violet","blue","grey","black","dark","red","pink","orange"],"range":["#ffffff","#ffffff","#222222","#ffffff","#d0d0d0","#ffffff","#ffffff","#ffffff"]}}}}
]}
]}
],
"resolve":{"scale":{"y":"independent"},"axis":{"y":"independent"}}
}
